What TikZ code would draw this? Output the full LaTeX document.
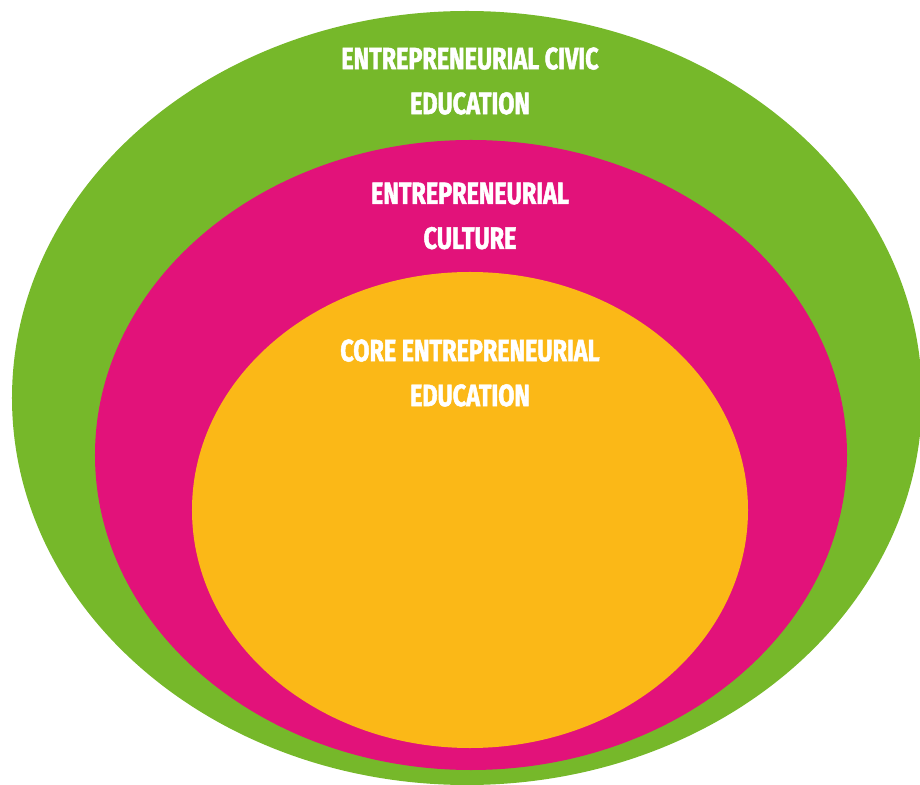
\documentclass[tikz,border=0pt]{standalone}
\usepackage{fontspec}
\usepackage{tikz}
\usetikzlibrary{shapes.geometric,positioning,backgrounds}
\newfontfamily\ringfont[FakeStretch=0.76,FakeBold=1.6]{Fira Sans}
\definecolor{civicgreen}{HTML}{76B82A}
\definecolor{culturemagenta}{HTML}{E2127A}
\definecolor{coreorange}{HTML}{FBB817}

\begin{document}
\begin{tikzpicture}
			[x=0.2mm, y=-0.2mm, inner sep=0pt,
			ring/.style		= {ellipse, draw=none, inner sep=0pt},
			ringlabel/.style	= {white, align=center, font=\ringfont\bfseries\fontsize{17.5}{25.5}\selectfont}]
			
			\useasboundingbox (0,0) rectangle (920,785);
			
			% the three rings, outer to inner
			\node [ring, fill=civicgreen,     minimum width=182mm,   minimum height=154.8mm]	at (467,398)	(civic)		{};
			\node [ring, fill=culturemagenta, minimum width=150.4mm, minimum height=126mm]	at (471,455)	(culture)	{};
			\node [ring, fill=coreorange,     minimum width=111.2mm, minimum height=95.2mm]	at (470,510)	(core)		{};
			
			% labels
			\node [ringlabel]	at (470,81)		(civictext)		{ENTREPRENEURIAL CIVIC\\EDUCATION};
			\node [ringlabel]	at (470,216)	(culturetext)	{ENTREPRENEURIAL\\CULTURE};
			\node [ringlabel]	at (470,373)	(coretext)		{CORE ENTREPRENEURIAL\\EDUCATION};
			
\end{tikzpicture}
\end{document}
